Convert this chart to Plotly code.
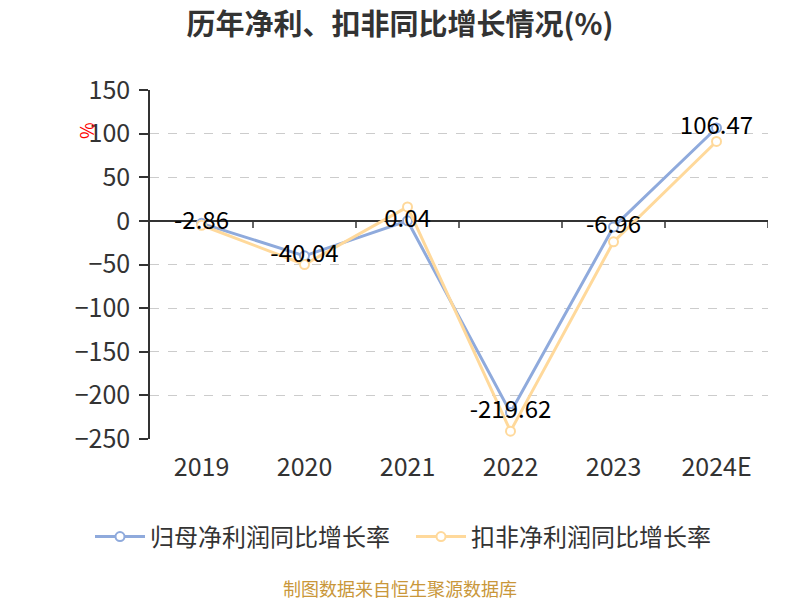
import plotly.graph_objects as go

categories = ["2019", "2020", "2021", "2022", "2023", "2024E"]
net_profit_growth = [-2.86, -40.04, 0.04, -219.62, -6.96, 106.47]
deducted_growth = [-5.0, -50.0, 16.0, -241.0, -24.0, 91.0]
y_ticks = [150, 100, 50, 0, -50, -100, -150, -200, -250]

FONT = "Noto Sans CJK SC"
BLUE = "#8FAADC"
ORANGE = "#FFD99B"

# page body has an 8px margin: figure coordinates = screen - 8
OFF = 8
PL, PR, PT, PB = 150 - OFF, 768 - OFF, 90 - OFF, 439 - OFF
PW, PH = PR - PL, PB - PT

fig = go.Figure()
fig.add_trace(go.Scatter(
    x=categories, y=net_profit_growth, name="归母净利润同比增长率",
    mode="lines+markers", legend="legend",
    line=dict(color=BLUE, width=3),
    marker=dict(symbol="circle", size=9, color="white", line=dict(color=BLUE, width=2)),
))
fig.add_trace(go.Scatter(
    x=categories, y=deducted_growth, name="扣非净利润同比增长率",
    mode="lines+markers", legend="legend2",
    line=dict(color=ORANGE, width=3),
    marker=dict(symbol="circle", size=9, color="white", line=dict(color=ORANGE, width=2)),
))
fig.add_trace(go.Scatter(
    x=categories, y=net_profit_growth, mode="text",
    text=[f"{v:.2f}" for v in net_profit_growth],
    textposition="middle center",
    textfont=dict(family=FONT, size=24, color="#000000"),
    showlegend=False, hoverinfo="skip",
))

shapes = []
for i in range(len(categories)):
    shapes.append(dict(
        type="line", xref="x", yref="y", x0=i + 0.5, x1=i + 0.5,
        ysizemode="pixel", yanchor=0, y0=0, y1=-7,
        line=dict(color="#333333", width=1.5),
    ))

legend_common = dict(
    orientation="h", xref="container", yref="container",
    xanchor="left", y=1 - (537 - OFF) / 600, yanchor="middle",
    font=dict(family=FONT, size=24, color="#333333"),
    itemwidth=50, bgcolor="rgba(0,0,0,0)",
)

fig.update_layout(
    width=800, height=600,
    margin=dict(l=PL, r=800 - PR, t=PT, b=600 - PB),
    paper_bgcolor="white", plot_bgcolor="white",
    font=dict(family=FONT, color="#333333"),
    title=dict(
        text="<b>历年净利、扣非同比增长情况(%)</b>",
        xref="container", yref="container",
        x=(400 - OFF) / 800, xanchor="center", y=1 - (25 - OFF) / 600, yanchor="middle",
        font=dict(family=FONT, size=29, color="#333333"),
    ),
    xaxis=dict(
        type="category", range=[-0.5, 5.5], automargin=False,
        showline=False, showgrid=False, zeroline=False, ticks="",
        tickfont=dict(family=FONT, size=25, color="#333333"),
        ticklabelstandoff=11,
    ),
    yaxis=dict(
        range=[-250, 150], tickvals=y_ticks, automargin=False,
        showline=True, linecolor="#333333", linewidth=1.5,
        ticks="outside", ticklen=9, tickcolor="#333333", tickwidth=1.5,
        showgrid=True, gridcolor="#cccccc", griddash="dash", gridwidth=1,
        zeroline=True, zerolinecolor="#333333", zerolinewidth=1.5,
        tickfont=dict(family=FONT, size=25, color="#333333"),
        ticklabelstandoff=4,
    ),
    legend=dict(x=(90 - OFF) / 800, **legend_common),
    legend2=dict(x=(411 - OFF) / 800, **legend_common),
    shapes=shapes,
    annotations=[
        dict(text="%", xref="paper", yref="paper",
             x=(86 - OFF - PL) / PW, y=(PB - (131 - OFF)) / PH,
             showarrow=False, textangle=-90,
             font=dict(family=FONT, size=18, color="#ff0000"),
             xanchor="center", yanchor="middle"),
        dict(text="制图数据来自恒生聚源数据库", xref="paper", yref="paper",
             x=(400 - OFF - PL) / PW, y=(PB - (588 - OFF)) / PH,
             showarrow=False,
             font=dict(family=FONT, size=18, color="#C9973A"),
             xanchor="center", yanchor="middle"),
    ],
    hovermode=False,
)

fig.write_html("out.html")
